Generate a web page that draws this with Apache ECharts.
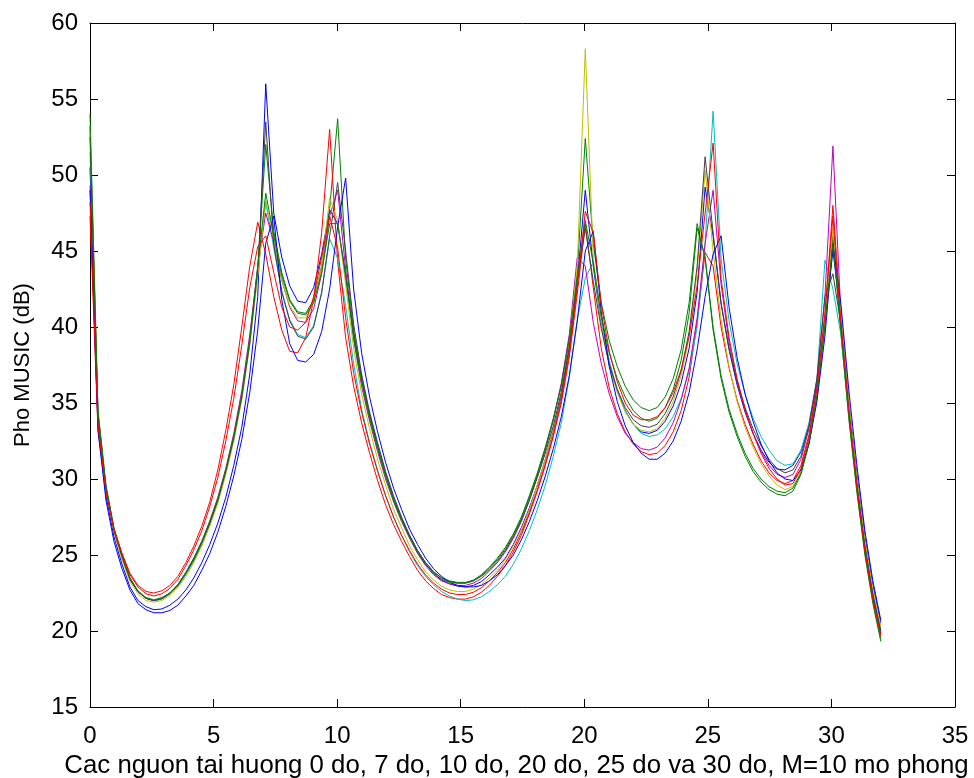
<!DOCTYPE html>
<html>
<head>
<meta charset="utf-8">
<script src="https://cdn.jsdelivr.net/npm/echarts@6/dist/echarts.min.js"></script>
<style>
html,body{margin:0;padding:0;background:#fff;}
#chart{width:974px;height:778px;}
</style>
</head>
<body>
<div id="chart"></div>
<script>
// Sample grid: 100 angles from 0 to 32 degrees
const xStart = 0, xEnd = 32, nPoints = 100;

const xTicks = [0, 5, 10, 15, 20, 25, 30, 35];
const yTicks = [15, 20, 25, 30, 35, 40, 45, 50, 55, 60];

const xTitle = "Cac nguon tai huong 0 do, 7 do, 10 do, 20 do, 25 do va 30 do, M=10 mo phong";
const yTitle = "Pho MUSIC (dB)";

const blueA = [50.5,33.6,28.9,26.2,24.4,22.9,22.0,21.6,21.4,21.45,
 21.7,22.1,22.7,23.5,24.5,25.7,27.1,28.8,30.9,33.4,
 36.9,42.0,56.0,47.5,44.6,42.7,41.7,41.6,42.6,44.8,
 47.7,46.8,43.5,39.6,36.6,34.2,32.1,30.3,28.7,27.4,
 26.2,25.2,24.4,23.8,23.35,23.1,22.95,22.9,23.0,23.25,
 23.7,24.2,24.8,25.7,26.8,28.1,29.6,31.3,33.2,35.5,
 38.6,43.0,49.0,44.0,40.2,37.6,35.8,34.5,33.6,33.1,
 33.0,33.2,33.8,34.8,36.3,38.6,42.3,49.2,46.0,41.5,
 38.5,36.2,34.4,33.0,31.9,31.1,30.65,30.6,30.9,31.8,
 33.5,36.3,40.3,45.0,40.8,35.0,30.3,26.2,23.0,20.5];

const greenA = [54.0,34.5,29.6,26.8,25.0,23.5,22.6,22.15,22.0,22.1,
 22.45,23.0,23.8,24.7,25.8,27.1,28.6,30.5,32.7,35.4,
 39.0,43.8,52.0,46.3,43.6,41.8,41.0,40.9,41.8,44.0,
 47.8,53.7,44.5,39.8,36.6,34.2,32.2,30.3,28.7,27.4,
 26.3,25.3,24.5,23.9,23.5,23.3,23.2,23.2,23.35,23.7,
 24.2,24.8,25.5,26.4,27.5,28.9,30.4,32.1,34.0,36.2,
 39.3,43.6,52.4,45.5,41.6,39.1,37.4,36.1,35.2,34.7,
 34.5,34.7,35.4,36.6,38.5,41.6,46.8,44.5,39.8,36.6,
 34.4,32.8,31.5,30.5,29.8,29.3,29.0,28.9,29.2,30.3,
 32.3,35.4,40.0,46.0,39.6,33.9,29.1,25.0,21.8,19.3];

const redA = [47.3,33.2,29.1,26.7,25.1,23.8,23.0,22.6,22.5,22.65,
 23.0,23.6,24.5,25.6,26.9,28.5,30.6,33.2,36.2,40.0,
 44.0,46.9,44.8,42.0,39.8,38.4,38.3,39.3,41.8,46.2,
 53.0,44.3,39.3,36.1,33.7,31.7,29.9,28.3,27.0,25.9,
 24.9,24.0,23.3,22.8,22.4,22.2,22.1,22.1,22.25,22.55,
 23.0,23.6,24.3,25.2,26.3,27.7,29.2,30.9,32.8,35.0,
 38.0,42.2,46.8,42.6,38.6,36.0,34.3,33.1,32.3,31.8,
 31.6,31.7,32.2,33.1,34.5,36.7,40.3,44.9,44.0,40.0,
 37.3,35.2,33.6,32.3,31.2,30.4,29.9,29.7,29.9,30.9,
 32.9,36.0,40.8,48.0,40.6,34.6,29.6,25.4,22.2,19.9];

const cyan = [51.5,34.2,29.4,26.6,24.9,23.4,22.6,22.15,22.0,22.1,
 22.45,22.95,23.7,24.6,25.7,27.0,28.5,30.4,32.6,35.3,
 38.9,43.5,48.2,45.2,42.4,40.5,39.5,39.3,40.1,42.2,
 45.8,44.5,41.4,37.6,34.6,32.4,30.6,28.9,27.5,26.3,
 25.2,24.3,23.6,23.05,22.6,22.3,22.1,22.0,22.05,22.25,
 22.6,23.05,23.6,24.4,25.4,26.6,28.0,29.6,31.5,33.7,
 36.7,40.5,43.2,44.3,40.6,37.8,35.9,34.5,33.6,33.0,
 32.8,32.9,33.3,34.1,35.3,37.1,40.0,45.5,54.2,44.5,
 40.4,37.6,35.6,34.0,32.8,31.9,31.2,30.9,31.0,31.9,
 33.7,36.6,44.4,42.5,39.5,34.2,29.5,25.6,22.5,20.0];

const magenta = [49.3,33.8,29.3,26.6,24.9,23.4,22.6,22.15,22.0,22.15,
 22.5,23.05,23.85,24.8,25.9,27.25,28.8,30.7,33.0,35.8,
 39.5,44.0,47.5,45.6,43.1,41.3,40.4,40.3,41.2,43.5,
 47.3,49.0,43.8,39.2,36.1,33.8,31.8,30.0,28.5,27.2,
 26.1,25.1,24.3,23.7,23.3,23.1,23.0,23.0,23.15,23.45,
 23.95,24.5,25.2,26.1,27.2,28.6,30.2,31.9,33.9,36.3,
 39.5,44.6,44.0,40.3,37.6,35.6,34.1,33.0,32.4,32.0,
 31.9,32.1,32.7,33.7,35.2,37.3,40.6,45.5,49.0,42.8,
 39.0,36.4,34.5,33.0,31.8,30.9,30.3,30.1,30.3,31.3,
 33.3,36.5,42.0,51.9,40.8,34.7,29.8,25.6,22.4,19.8];

const yellow = [53.0,34.3,29.3,26.5,24.7,23.25,22.45,22.0,21.9,22.0,
 22.35,22.85,23.6,24.5,25.6,26.9,28.4,30.3,32.5,35.2,
 38.8,43.4,48.3,45.8,43.1,41.4,40.6,40.6,41.6,44.0,
 48.5,47.0,42.8,38.6,35.6,33.3,31.3,29.6,28.0,26.8,
 25.6,24.7,23.9,23.35,22.95,22.7,22.6,22.6,22.75,23.05,
 23.5,24.0,24.7,25.6,26.7,28.0,29.6,31.3,33.3,35.7,
 39.0,44.0,58.3,44.5,40.2,37.5,35.7,34.4,33.6,33.2,
 33.1,33.3,34.0,35.1,36.8,39.3,43.6,50.3,45.0,40.5,
 37.4,35.1,33.4,32.1,31.0,30.2,29.6,29.3,29.5,30.5,
 32.5,35.6,40.4,46.5,40.9,35.0,30.1,26.0,22.8,20.3];

const dark = [52.5,34.2,29.4,26.6,24.9,23.4,22.6,22.15,22.0,22.15,
 22.5,23.0,23.8,24.7,25.8,27.1,28.6,30.5,32.7,35.4,
 39.0,43.8,53.5,45.4,42.3,40.4,39.4,39.2,40.0,42.3,
 46.0,49.5,45.0,40.2,36.9,34.4,32.4,30.5,28.9,27.5,
 26.3,25.3,24.5,23.9,23.5,23.25,23.15,23.15,23.3,23.6,
 24.05,24.6,25.3,26.2,27.3,28.6,30.1,31.7,33.5,35.7,
 38.7,43.0,46.5,43.0,39.9,37.5,35.9,34.7,33.9,33.5,
 33.4,33.6,34.3,35.4,37.1,39.7,44.0,51.2,46.2,41.6,
 38.6,36.4,34.7,33.3,32.2,31.3,30.7,30.4,30.6,31.5,
 33.5,36.6,42.0,43.5,40.2,34.5,29.7,25.6,22.4,20.0];

const blueB = [49.0,33.2,28.6,25.9,24.1,22.7,21.8,21.4,21.2,21.2,
 21.35,21.7,22.3,23.0,24.0,25.1,26.5,28.2,30.2,32.6,
 35.7,39.8,45.5,47.3,41.8,38.9,37.8,37.7,38.2,39.7,
 42.5,46.6,49.8,42.5,38.3,35.4,33.1,31.1,29.4,28.0,
 26.7,25.7,24.8,24.1,23.6,23.2,23.0,22.9,22.9,23.0,
 23.3,23.7,24.3,25.0,26.0,27.2,28.6,30.2,32.0,34.1,
 36.8,40.4,45.0,46.3,41.0,37.4,35.1,33.5,32.4,31.7,
 31.3,31.3,31.7,32.5,33.8,35.7,38.5,42.0,44.8,46.0,
 41.3,38.0,35.6,33.8,32.3,31.2,30.4,30.0,29.9,30.6,
 32.3,35.1,39.4,45.5,41.5,35.8,30.9,26.6,23.3,20.7];

const greenB = [53.2,34.4,29.5,26.7,25.0,23.5,22.65,22.2,22.05,22.2,
 22.5,23.05,23.85,24.8,25.9,27.2,28.7,30.6,32.8,35.5,
 39.2,44.0,48.8,46.0,43.4,41.7,40.9,40.8,41.6,43.6,
 46.8,46.8,43.3,39.3,36.4,34.0,32.0,30.2,28.6,27.3,
 26.2,25.2,24.4,23.8,23.4,23.2,23.15,23.15,23.3,23.65,
 24.15,24.7,25.4,26.3,27.4,28.8,30.3,32.0,33.9,36.1,
 39.2,43.3,47.0,44.2,40.7,38.3,36.6,35.4,34.5,34.0,
 33.8,34.0,34.7,35.9,37.8,40.9,46.5,44.6,40.0,36.8,
 34.6,33.0,31.7,30.7,30.0,29.5,29.2,29.1,29.4,30.4,
 32.4,35.5,40.2,45.5,39.8,34.1,29.3,25.2,22.0,19.5];

const redB = [48.2,33.5,29.2,26.7,25.1,23.7,22.9,22.45,22.3,22.45,
 22.8,23.4,24.3,25.35,26.6,28.2,30.1,32.5,35.3,38.8,
 42.6,45.3,46.0,43.6,41.3,40.0,39.8,40.3,42.0,44.6,
 47.3,45.2,40.6,37.0,34.4,32.3,30.5,28.9,27.5,26.3,
 25.3,24.4,23.7,23.15,22.75,22.5,22.4,22.4,22.55,22.85,
 23.3,23.85,24.5,25.4,26.5,27.8,29.3,31.0,32.9,35.2,
 38.3,42.6,47.6,46.2,41.5,38.4,36.4,35.0,34.2,33.9,
 33.9,34.1,34.7,35.7,37.2,39.4,42.7,47.5,52.1,43.2,
 39.3,36.6,34.6,33.0,31.7,30.7,30.0,29.6,29.7,30.7,
 32.7,35.9,40.9,47.3,40.3,34.4,29.5,25.3,22.1,19.7];

const runs = [
  {name:'run1', color:'#0000ff', values: blueA},
  {name:'run2', color:'#008000', values: greenA},
  {name:'run3', color:'#ff0000', values: redA},
  {name:'run4', color:'#00bfbf', values: cyan},
  {name:'run5', color:'#bf00bf', values: magenta},
  {name:'run6', color:'#bfbf00', values: yellow},
  {name:'run7', color:'#404040', values: dark},
  {name:'run8', color:'#0000ff', values: blueB},
  {name:'run9', color:'#008000', values: greenB},
  {name:'run10', color:'#ff0000', values: redB}
];

const FONT = '"Liberation Sans", Arial, sans-serif';
const step = (xEnd - xStart) / (nPoints - 1);

const axisCommon = {
  type: 'value',
  axisLine: {show: true, onZero: false, lineStyle: {color: '#000', width: 1}},
  axisTick: {show: true, inside: true, length: 8, lineStyle: {color: '#000', width: 1}},
  splitLine: {show: false},
  axisLabel: {color: '#000', fontSize: 24, fontFamily: FONT}
};

const chart = echarts.init(document.getElementById('chart'), null, {renderer: 'canvas'});
chart.setOption({
  animation: false,
  backgroundColor: '#fff',
  grid: {left: 90, right: 19, top: 23, bottom: 71, containLabel: false, outerBoundsMode: 'none'},
  xAxis: [
    Object.assign({}, axisCommon, {
      position: 'bottom', min: xTicks[0], max: xTicks[xTicks.length - 1], interval: 5,
      axisLabel: Object.assign({}, axisCommon.axisLabel, {margin: 17}),
      name: xTitle, nameLocation: 'middle', nameGap: 46,
      nameTextStyle: {color: '#000', fontSize: 25.8, fontFamily: FONT, padding: [0, 12, 0, 0]}
    }),
    Object.assign({}, axisCommon, {
      position: 'top', min: xTicks[0], max: xTicks[xTicks.length - 1], interval: 5,
      axisLabel: {show: false}
    })
  ],
  yAxis: [
    Object.assign({}, axisCommon, {
      position: 'left', min: yTicks[0], max: yTicks[yTicks.length - 1], interval: 5,
      axisLabel: Object.assign({}, axisCommon.axisLabel, {margin: 12}),
      name: yTitle, nameLocation: 'middle', nameGap: 56, nameRotate: 90,
      nameTextStyle: {color: '#000', fontSize: 22, fontFamily: FONT}
    }),
    Object.assign({}, axisCommon, {
      position: 'right', min: yTicks[0], max: yTicks[yTicks.length - 1], interval: 5,
      axisLabel: {show: false}
    })
  ],
  series: runs.map(r => ({
    name: r.name,
    type: 'line',
    xAxisIndex: 0,
    yAxisIndex: 0,
    showSymbol: false,
    symbol: 'none',
    silent: true,
    lineStyle: {color: r.color, width: 1},
    data: r.values.map((v, i) => [xStart + i * step, v])
  }))
});
</script>
</body>
</html>
